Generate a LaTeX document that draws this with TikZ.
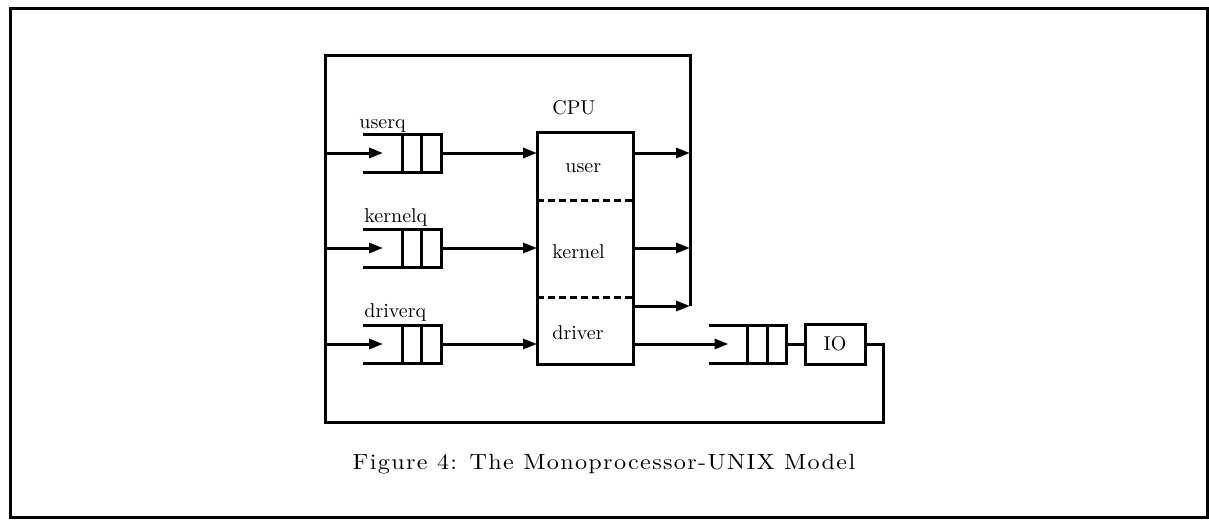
\documentclass[tikz,border=0pt]{standalone}
\usepackage{fontspec}
\newfontfamily\capfont[LetterSpace=6.0, FakeStretch=1.1]{Latin Modern Roman}
\usepackage{tikz}
\usetikzlibrary{arrows.meta}

% a queue: two slots, open on the left
\newcommand{\queue}[3]{%
  \node[qslots] (#1) at (#2,#3) {};
  \draw[qline] ([xshift=-19.5pt]#1.north west) -- (#1.north east) -- (#1.south east) -- ([xshift=-19.5pt]#1.south west);
  \draw[qline] (#1.north west) -- (#1.south west) (#1.north) -- (#1.south);
}

\begin{document}
\begin{tikzpicture}[x=0.5pt,y=-0.5pt,
    qline/.style={line width=1.5pt},
    qslots/.style={minimum width=19.5pt, minimum height=19pt, inner sep=0pt, outer sep=0pt},
    arr/.style={line width=1.5pt, -{Triangle[length=7pt,width=5pt]}},
    lbl/.style={anchor=base west, inner sep=0pt}]
    \useasboundingbox (0,0) rectangle (1209,519);
    \draw[line width=1.5pt] (10,9) rectangle (1207.5,517.5);

    % loop corners
    \coordinate (tl) at (325,56);
    \coordinate (tr) at (690,56);
    \coordinate (br) at (883,422);
    \coordinate (drvout) at (690,306);

    % queues
    \queue{userq}{421.5}{153}
    \queue{kernelq}{421.5}{248}
    \queue{driverq}{421.5}{344}
    \queue{ioq}{767}{344}
    \node[lbl] (userqlbl) at (359,128) {userq};
    \node[lbl] (kernelqlbl) at (364,222) {kernelq};
    \node[lbl] (driverqlbl) at (364,317) {driverq};

    % cpu
    \node[draw, line width=1.5pt, minimum width=48pt, minimum height=116pt, inner sep=0pt, outer sep=0pt] (cpu) at (585,248.5) {};
    \node[lbl] (cpulbl) at (552,115) {CPU};
    \node[lbl] (userlbl) at (565,172) {user};
    \node[lbl] (kernellbl) at (552,258) {kernel};
    \node[lbl] (driverlbl) at (552,339) {driver};
    \draw[qline, dash pattern=on 3.5pt off 2pt] (cpu.west |- 0,200) -- (cpu.east |- 0,200);
    \draw[qline, dash pattern=on 3.5pt off 2pt] (cpu.west |- 0,297) -- (cpu.east |- 0,297);

    % io
    \node[draw, line width=1.5pt, minimum width=30pt, minimum height=20pt, inner sep=0pt, outer sep=0pt] (io) at (835,344) {IO};

    \draw[arr] (userq -| tl) -- ([xshift=-9.5pt]userq.west);
    \draw[arr] (kernelq -| tl) -- ([xshift=-9.5pt]kernelq.west);
    \draw[arr] (driverq -| tl) -- ([xshift=-9.5pt]driverq.west);
    \draw[arr] (userq.east) -- (userq.east -| cpu.west);
    \draw[arr] (kernelq.east) -- (kernelq.east -| cpu.west);
    \draw[arr] (driverq.east) -- (driverq.east -| cpu.west);
    \draw[arr] (userq -| cpu.east) -- (userq -| tr);
    \draw[arr] (kernelq -| cpu.east) -- (kernelq -| tr);
    \draw[arr] (drvout -| cpu.east) -- (drvout);
    \draw[arr] (driverq -| cpu.east) -- ([xshift=-9.5pt]ioq.west);
    \draw[qline] (ioq.east) -- (io.west);
    \draw[qline] (io.east) -| (br) -| (tl) -| (drvout);

    \node[anchor=base, font=\fontsize{11}{13}\selectfont] (caption) at (604,469) {\capfont Figure 4: The Monoprocessor-UNIX Model};
\end{tikzpicture}
\end{document}
